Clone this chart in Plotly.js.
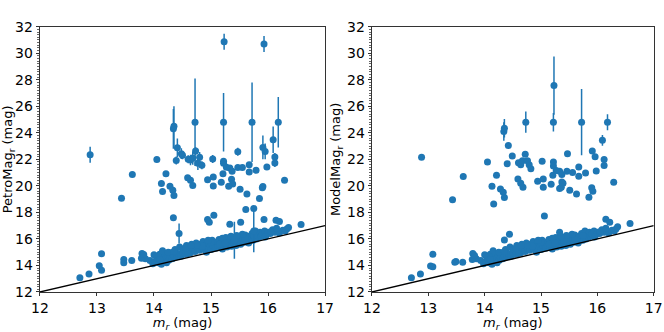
<!DOCTYPE html>
<html>
<head>
<meta charset="utf-8">
<script src="https://cdn.plot.ly/plotly-3.0.1.min.js"></script>
<style>
  html, body { margin: 0; padding: 0; background: #fff; }
  #chart { width: 664px; height: 332px; }
</style>
</head>
<body>
<div id="chart"></div>
<script>
// galaxies along the m_r ~ mag sequence (same in both panels)
const bandMr = [13.79, 13.93, 13.98, 14.02, 14.05, 14.08, 14.10, 14.12, 14.13, 14.15, 14.17, 14.19, 14.20, 14.22,
  14.24, 14.26, 14.28, 14.30, 14.32, 14.35, 14.37, 14.40, 14.42, 14.45, 14.47, 14.50, 14.52, 14.55, 14.57, 14.60,
  14.62, 14.64, 14.66, 14.68, 14.70, 14.72, 14.74, 14.76, 14.78, 14.80, 14.82, 14.84, 14.86, 14.88, 14.90, 14.92,
  14.94, 14.96, 14.98, 15.00, 15.02, 15.04, 15.06, 15.08, 15.10, 15.12, 15.14, 15.16, 15.18, 15.20, 15.22, 15.24,
  15.26, 15.28, 15.30, 15.32, 15.34, 15.36, 15.38, 15.40, 15.42, 15.44, 15.46, 15.48, 15.50, 15.52, 15.54, 15.56,
  15.58, 15.60, 15.62, 15.64, 15.66, 15.68, 15.70, 15.72, 15.74, 15.76, 15.78, 15.80, 15.82, 15.84, 15.86, 15.88,
  15.90, 15.94, 15.97, 16.00, 16.04, 16.08, 16.12, 16.16, 16.20, 16.26, 16.33, 14.00, 14.15, 14.25, 14.60, 15.00,
  15.20, 15.40, 15.60, 15.15, 14.85, 15.55, 15.75, 15.95, 16.05, 15.45, 15.25, 14.95, 14.75, 14.55, 14.35, 14.10,
  13.85, 16.15, 16.30, 14.65, 15.35];
const bandMag = [14.91, 14.38, 14.12, 14.30, 14.55, 14.20, 14.85, 14.40, 14.10, 14.65, 14.30, 14.90, 14.50, 14.20,
  14.75, 14.40, 14.60, 14.95, 14.50, 14.70, 15.20, 14.65, 14.90, 15.40, 14.70, 15.00, 15.20, 14.85, 15.50, 15.10,
  15.30, 14.95, 15.60, 15.20, 15.40, 15.05, 15.70, 15.30, 15.50, 15.15, 15.60, 15.35, 15.80, 15.20, 15.50, 15.00,
  15.70, 15.35, 15.55, 15.20, 15.90, 15.45, 15.65, 15.30, 15.75, 15.50, 15.95, 15.35, 15.65, 15.25, 15.85, 15.55,
  16.10, 15.40, 15.75, 15.60, 16.00, 15.45, 15.80, 15.60, 16.10, 15.50, 15.85, 15.70, 16.20, 15.60, 15.90, 16.00,
  15.75, 16.30, 15.80, 16.05, 15.70, 16.20, 15.95, 16.40, 15.90, 16.10, 16.60, 16.00, 16.30, 16.15, 16.50, 16.20,
  16.35, 16.60, 16.30, 16.50, 16.40, 16.70, 16.50, 16.60, 16.45, 16.65, 16.75, 14.80, 15.10, 15.00, 14.90, 15.75,
  16.05, 15.90, 16.00, 15.60, 15.45, 16.35, 16.25, 16.15, 16.55, 16.25, 15.70, 15.90, 15.55, 15.30, 15.05, 14.45,
  14.50, 16.80, 16.60, 15.50, 16.20];

// left panel: PetroMag_r, remaining galaxies with error bars
const petroMr = [12.70, 12.86, 13.04, 13.08, 13.08, 13.47, 13.47, 13.61, 13.78, 13.82, 12.88, 13.43, 13.62, 14.05,
  14.21, 14.13, 14.15, 14.28, 14.33, 14.35, 14.34, 14.35, 14.41, 14.39, 14.48, 14.50, 14.60, 14.64, 14.68, 14.59,
  14.64, 14.68, 14.72, 14.73, 14.77, 14.80, 14.84, 14.94, 15.03, 15.04, 15.04, 15.18, 15.21, 15.22, 15.22, 15.23,
  15.22, 15.27, 15.33, 15.37, 15.36, 15.38, 15.31, 15.47, 15.47, 15.55, 15.51, 15.63, 15.67, 15.67, 15.72, 15.79,
  15.85, 15.90, 15.91, 15.93, 15.91, 15.95, 15.98, 16.09, 16.12, 16.12, 16.18, 16.29, 15.61, 15.75, 15.05, 14.94,
  14.97, 14.34, 15.33, 15.52, 15.93, 16.14, 16.20, 16.58, 16.36, 14.44, 15.41, 15.75];
const petroMag = [13.08, 13.35, 13.98, 13.63, 14.88, 14.20, 14.45, 14.38, 14.55, 14.83, 22.35, 19.07, 20.85, 21.98,
  20.92, 20.17, 19.57, 19.97, 19.67, 19.27, 24.30, 24.50, 22.88, 21.92, 22.43, 22.30, 22.00, 21.95, 22.10, 20.62,
  20.42, 20.02, 24.80, 22.62, 21.70, 22.15, 21.55, 20.47, 22.02, 20.67, 19.99, 20.27, 20.92, 21.85, 21.70, 30.87,
  24.80, 21.40, 21.35, 21.10, 20.50, 20.15, 19.97, 22.58, 21.38, 21.38, 19.74, 19.39, 21.60, 21.05, 24.80, 21.17,
  19.04, 19.86, 19.95, 30.70, 22.90, 22.60, 21.43, 23.48, 22.17, 21.72, 24.80, 20.42, 18.22, 18.30, 17.79, 17.47,
  17.25, 17.60, 17.11, 17.26, 17.46, 17.41, 17.32, 17.09, 16.86, 16.41, 15.90, 16.60];
const petroErr = [0.1, 0.1, 0.1, 0.1, 0.15, 0.2, 0.2, 0.1, 0.1, 0.1, 0.6, 0.1, 0.15, 0.2,
  0.2, 0.1, 0.1, 0.1, 0.15, 0.15, 1.5, 1.5, 0.7, 0.3, 0.4, 0.3, 0.3, 0.4, 0.5, 0.1,
  0.1, 0.1, 3.3, 0.3, 0.5, 0.4, 0.3, 0.1, 0.3, 0.1, 0.1, 0.1, 0.1, 0.2, 0.2, 0.6,
  2.2, 0.1, 0.1, 0.1, 0.2, 0.2, 0.1, 0.3, 0.1, 0.1, 0.1, 0.1, 0.1, 0.1, 3.0, 0.1,
  0.1, 0.1, 0.1, 0.6, 0.9, 0.6, 0.1, 1.0, 0.3, 0.3, 1.9, 0.1, 0.1, 0.1, 0.1, 0.1,
  0.1, 0.1, 0.1, 0.1, 0.1, 0.1, 0.1, 0.1, 0.1, 0.75, 1.4, 1.6];

// right panel: ModelMag_r
const modelMr = [12.70, 12.86, 13.04, 13.08, 13.08, 13.47, 13.49, 13.61, 13.78, 13.82, 12.88, 13.43, 13.62, 14.05,
  14.21, 14.13, 14.16, 14.28, 14.33, 14.35, 14.34, 14.35, 14.42, 14.40, 14.49, 14.60, 14.64, 14.67, 14.59, 14.64,
  14.68, 14.73, 14.72, 14.76, 14.79, 14.82, 14.94, 15.02, 15.04, 15.04, 15.18, 15.21, 15.22, 15.22, 15.23, 15.22,
  15.27, 15.33, 15.37, 15.37, 15.39, 15.36, 15.33, 15.47, 15.46, 15.56, 15.51, 15.63, 15.67, 15.67, 15.72, 15.79,
  15.85, 15.90, 15.92, 15.91, 15.96, 15.98, 16.09, 16.12, 16.12, 16.18, 16.29, 15.06, 16.15, 16.22, 16.58, 16.36,
  14.44, 14.35, 15.33];
const modelMag = [13.08, 13.35, 13.95, 13.90, 14.85, 14.25, 14.30, 14.25, 14.45, 14.75, 22.15, 18.95, 20.70, 21.80,
  20.80, 19.97, 18.64, 19.77, 19.52, 19.12, 24.10, 24.35, 23.05, 21.67, 22.25, 21.75, 21.60, 21.90, 20.52, 20.20,
  19.90, 24.80, 22.38, 21.90, 21.60, 21.30, 20.35, 21.85, 20.52, 19.90, 20.12, 20.80, 21.80, 21.50, 27.56, 24.80,
  21.15, 21.10, 20.85, 20.30, 20.20, 19.90, 19.80, 22.43, 21.10, 21.00, 19.67, 19.39, 21.42, 20.72, 24.80, 20.97,
  19.14, 19.85, 19.60, 22.62, 22.20, 21.12, 23.43, 21.98, 21.53, 24.80, 20.27, 17.72, 17.49, 17.26, 17.16, 16.91,
  16.36, 15.91, 16.50];
const modelErr = [0, 0, 0, 0, 0, 0, 0, 0, 0, 0, 0, 0, 0, 0,
  0, 0, 0, 0, 0, 0, 0.7, 0.7, 0, 0, 0, 0, 0, 0, 0, 0,
  0, 0.8, 0, 0, 0, 0, 0, 0, 0, 0, 0, 0, 0, 0, 2.2, 0.7,
  0, 0, 0, 0, 0, 0, 0, 0, 0, 0, 0, 0, 0, 0, 2.5, 0,
  0, 0, 0, 0, 0, 0, 0.4, 0, 0, 0.6, 0, 0, 0, 0, 0, 0,
  0, 0, 0];

// one-to-one line
const oneToOne = [12, 17];

const blue = '#1f77b4';
const mk = { color: blue, size: 7 };

function points(x, y, err, xa, ya) {
  return {
    x: x, y: y, xaxis: xa, yaxis: ya, type: 'scatter', mode: 'markers',
    marker: mk, hoverinfo: 'skip',
    error_y: err ? { type: 'data', array: err, visible: true, thickness: 1.5, width: 0, color: blue } : undefined
  };
}

function line(xa, ya) {
  return { x: oneToOne, y: oneToOne, xaxis: xa, yaxis: ya, type: 'scatter', mode: 'lines',
    line: { color: 'black', width: 1.3 }, hoverinfo: 'skip' };
}

const traces = [
  points(bandMr, bandMag, null, 'x', 'y'),
  points(petroMr, petroMag, petroErr, 'x', 'y'),
  line('x', 'y'),
  points(bandMr, bandMag, null, 'x2', 'y2'),
  points(modelMr, modelMag, modelErr, 'x2', 'y2'),
  line('x2', 'y2')
];

const fnt = { family: 'DejaVu Sans, sans-serif', size: 13, color: 'black' };
const tickFnt = { family: 'DejaVu Sans, sans-serif', size: 14, color: 'black' };

function xAxis(dom, anchor) {
  return {
    domain: dom, anchor: anchor, range: [12, 17], dtick: 1, tick0: 12,
    ticks: 'outside', ticklen: 3.5, tickwidth: 0.8, tickcolor: 'black',
    showline: true, mirror: true, linecolor: 'black', linewidth: 0.8,
    showgrid: false, zeroline: false, tickfont: tickFnt, automargin: false,
    ticklabeloverflow: 'allow',
    title: { text: '<i>m<sub>r</sub></i> (mag)', font: fnt, standoff: 0 }
  };
}

function yAxis(anchor, label) {
  return {
    domain: [0.1205, 0.9196], anchor: anchor, range: [12, 32], dtick: 2, tick0: 12,
    ticks: 'outside', ticklen: 3.5, tickwidth: 0.8, tickcolor: 'black',
    minor: { dtick: 0.2, ticks: 'outside', ticklen: 2, tickwidth: 0.6, tickcolor: 'black', showgrid: false },
    showline: true, mirror: true, linecolor: 'black', linewidth: 0.8,
    showgrid: false, zeroline: false, tickfont: tickFnt, automargin: false,
    ticklabeloverflow: 'allow',
    title: { text: label, font: fnt, standoff: 3 }
  };
}

const layout = {
  width: 664, height: 332,
  margin: { l: 0, r: 0, t: 0, b: 0 },
  paper_bgcolor: 'white', plot_bgcolor: 'white',
  showlegend: false,
  font: fnt,
  xaxis: xAxis([0.0602, 0.4895], 'y'),
  yaxis: yAxis('x', 'PetroMag<sub>r</sub> (mag)'),
  xaxis2: xAxis([0.5602, 0.9845], 'y2'),
  yaxis2: yAxis('x2', 'ModelMag<sub>r</sub> (mag)')
};

Plotly.newPlot('chart', traces, layout, { staticPlot: true });
</script>
</body>
</html>
